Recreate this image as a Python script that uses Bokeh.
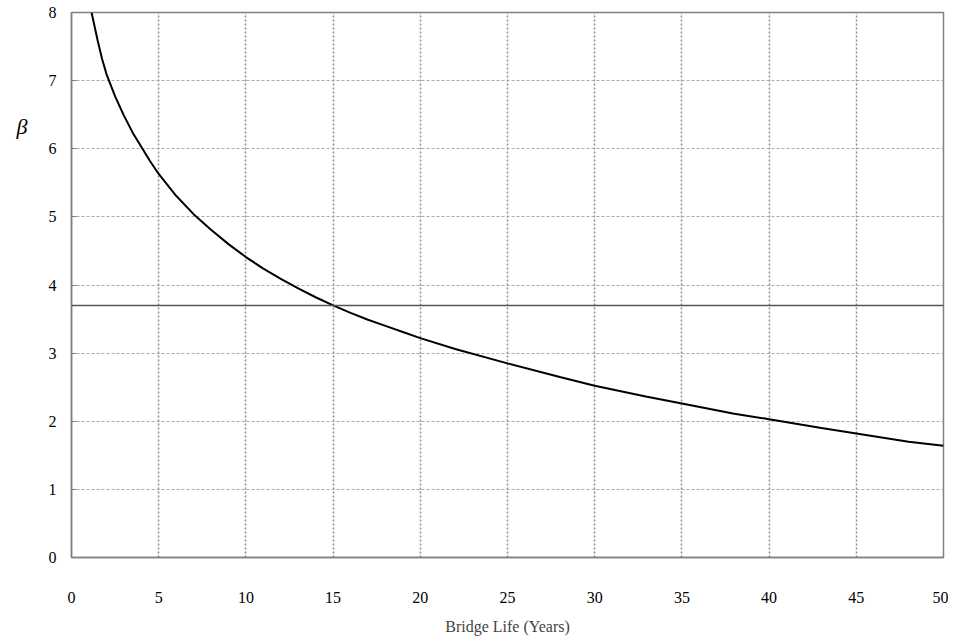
from bokeh.plotting import figure
from bokeh.models import Span, FixedTicker, LinearAxis
from bokeh.embed import file_html
from bokeh.resources import INLINE

# Data
years = [1.15, 1.5, 1.75, 2.0, 2.5, 3.0, 3.5, 4.0, 4.5, 5.0, 6.0, 7.0, 8.0, 9.0, 10.0, 11.0, 12.0, 13.0,
         14.0, 15.0, 16.0, 17.0, 18.0, 19.0, 20.0, 22.0, 25.0, 28.0, 30.0, 33.0, 35.0,
         38.0, 40.0, 43.0, 45.0, 48.0, 50.0]
beta = [8.0, 7.59, 7.32, 7.1, 6.77, 6.49, 6.24, 6.03, 5.82, 5.63, 5.31, 5.04, 4.81, 4.60, 4.41, 4.24, 4.09, 3.95,
        3.82, 3.70, 3.59, 3.49, 3.40, 3.31, 3.22, 3.06, 2.85, 2.65, 2.52, 2.36, 2.26,
        2.11, 2.03, 1.90, 1.82, 1.70, 1.64]
target_beta = 3.70
x_ticks = [0, 5, 10, 15, 20, 25, 30, 35, 40, 45, 50]
y_ticks = [0, 1, 2, 3, 4, 5, 6, 7, 8]
y_title = "β"

FONT = "Liberation Serif"

p = figure(width=948, height=637, x_range=(0, 50), y_range=(0, 8),
           output_backend="svg", toolbar_location=None, tools="",
           min_border_left=71, min_border_right=5, min_border_top=12, min_border_bottom=77)
p.background_fill_color = "white"
p.border_fill_color = "white"
p.outline_line_color = "#808080"
p.outline_line_width = 1.5

p.xaxis.ticker = FixedTicker(ticks=x_ticks)
p.yaxis.ticker = FixedTicker(ticks=y_ticks)
for ax in (p.xaxis, p.yaxis):
    ax.axis_line_color = "#808080"
    ax.axis_line_width = 1.5
    ax.major_label_text_font = FONT
    ax.major_label_text_font_size = "16px"
    ax.major_label_text_color = "black"
    ax.minor_tick_line_color = None
p.xaxis.major_tick_line_color = None
p.xaxis.major_label_standoff = 28
p.xaxis.axis_label = "Bridge Life (Years)"
p.xaxis.axis_label_text_font = FONT
p.xaxis.axis_label_text_font_style = "normal"
p.xaxis.axis_label_text_font_size = "16px"
p.xaxis.axis_label_standoff = 12
p.yaxis.major_tick_in = 5
p.yaxis.major_tick_out = 0
p.yaxis.major_tick_line_color = "#808080"
p.yaxis.major_label_standoff = 15

# extra left axis only used to carry the β label near the top (blank lines push it up)
beta_axis = LinearAxis(ticker=FixedTicker(ticks=[]),
                       axis_line_color=None, major_tick_line_color=None,
                       minor_tick_line_color=None, major_label_text_font_size="0px",
                       axis_label=y_title + "\n " * 12, axis_label_orientation="horizontal",
                       axis_label_text_font=FONT, axis_label_text_font_style="italic",
                       axis_label_text_font_size="22px", axis_label_text_color="black",
                       axis_label_text_line_height=1.06,
                       axis_label_standoff=18)
p.add_layout(beta_axis, "left")

p.xgrid.grid_line_color = "#8a8a8a"
p.xgrid.grid_line_dash = "2 2"
p.xgrid.grid_line_width = 1.5
p.ygrid.grid_line_color = "#aaaaaa"
p.ygrid.grid_line_dash = "3 2"
p.ygrid.grid_line_width = 1

p.add_layout(Span(location=target_beta, dimension="width", line_color="#555555", line_width=1.5))
p.line(years, beta, line_color="black", line_width=2)

open("out.html", "w").write(file_html(p, INLINE))
